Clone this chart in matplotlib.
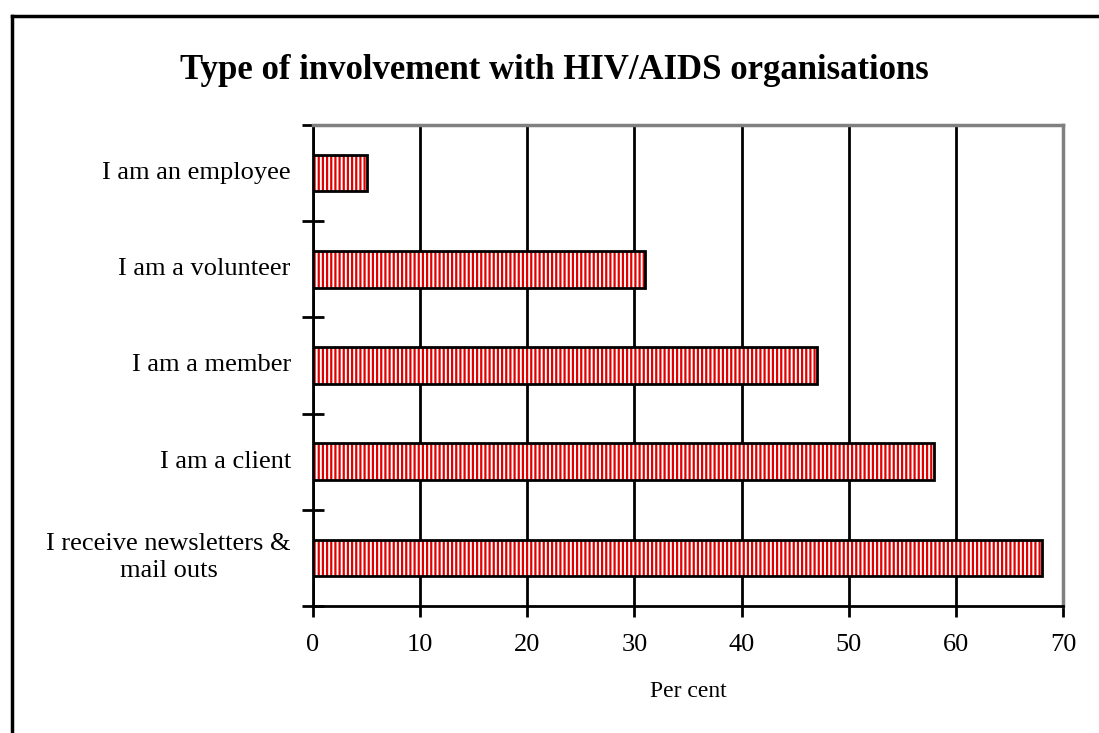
import matplotlib.pyplot as plt
from matplotlib.lines import Line2D
import numpy as np

plt.rcParams["font.family"] = ["Liberation Serif", "DejaVu Serif"]
plt.rcParams["hatch.linewidth"] = 1.6

categories = [
    "I receive newsletters &\nmail outs",
    "I am a client",
    "I am a member",
    "I am a volunteer",
    "I am an employee",
]
percent = [68, 58, 47, 31, 5]
xticks = [0, 10, 20, 30, 40, 50, 60, 70]

fig = plt.figure(figsize=(10.99, 7.33), dpi=100)
ax = fig.add_axes([0.2848, 0.1733, 0.6824, 0.6562])

y = np.arange(len(categories))
# red vertical stripes first, then a black outline on top
ax.barh(y, percent, height=0.38, color="white", edgecolor="#e00000",
        linewidth=0, hatch="||||", zorder=3)
ax.barh(y, percent, height=0.38, color="none", edgecolor="black",
        linewidth=2, zorder=4)

ax.set_xlim(0, 70)
ax.set_ylim(-0.5, len(categories) - 0.5)
ax.set_xticks(xticks)
ax.set_xticklabels([str(t) for t in xticks], fontsize=19)
ax.tick_params(axis="x", direction="out", length=8, width=2, pad=12)

# category labels centred on the bars, ticks sit between categories
ax.set_yticks(np.arange(-0.5, len(categories), 1.0))
ax.set_yticklabels([])
ax.tick_params(axis="y", direction="inout", length=16, width=2)
for yi, lbl in zip(y, categories):
    ax.annotate(lbl, xy=(0, yi), xycoords=("axes fraction", "data"),
                xytext=(-16, 0), textcoords="offset points",
                ha="right", va="center", multialignment="center",
                fontsize=19, linespacing=1.3)

ax.xaxis.grid(True, color="black", linewidth=2)
ax.set_axisbelow(True)

for side in ("left", "bottom"):
    ax.spines[side].set_linewidth(2)
    ax.spines[side].set_color("black")
for side in ("top", "right"):
    ax.spines[side].set_linewidth(2.5)
    ax.spines[side].set_color("#808080")

ax.set_xlabel("Per cent", fontsize=17, labelpad=18)

fig.text(0.5046, 0.9045, "Type of involvement with HIV/AIDS organisations",
         ha="center", va="center", fontsize=25, fontweight="bold")

# outer frame (left and top edges)
fig.add_artist(Line2D([12 / 1099, 12 / 1099], [0, 1 - 16 / 733],
                      transform=fig.transFigure, color="black", linewidth=2.5))
fig.add_artist(Line2D([12 / 1099, 1], [1 - 16 / 733, 1 - 16 / 733],
                      transform=fig.transFigure, color="black", linewidth=2.5))

fig.savefig("out.png", dpi=100)
